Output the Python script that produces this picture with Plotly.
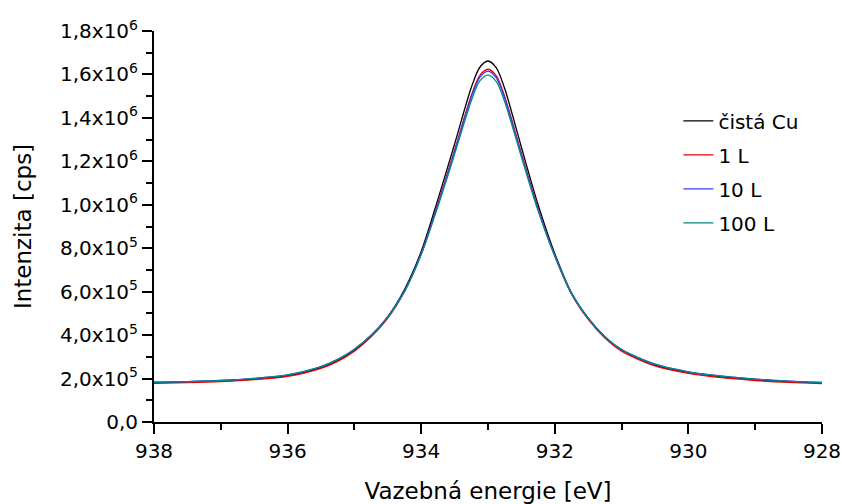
import plotly.graph_objects as go

energy = [938, 937.5, 937, 936.5, 936, 935.5, 935.25, 935, 934.75, 934.5, 934.25, 934,
          933.75, 933.5, 933.25, 933.125, 933, 932.875, 932.75, 932.5, 932.25, 932,
          931.75, 931.5, 931.25, 931, 930.5, 930, 929.5, 929, 928.5, 928]

cista_cu = [0.181, 0.184, 0.189, 0.198, 0.213, 0.250, 0.283, 0.330, 0.397, 0.485, 0.610, 0.785,
            1.025, 1.280, 1.540, 1.632, 1.662, 1.630, 1.535, 1.265, 1.000, 0.775,
            0.595, 0.478, 0.392, 0.332, 0.262, 0.228, 0.208, 0.195, 0.186, 0.180]
l1 = [0.178, 0.181, 0.186, 0.195, 0.210, 0.247, 0.279, 0.326, 0.392, 0.478, 0.601, 0.775,
      1.005, 1.252, 1.503, 1.595, 1.624, 1.593, 1.498, 1.237, 0.982, 0.765,
      0.588, 0.472, 0.386, 0.326, 0.258, 0.224, 0.204, 0.191, 0.182, 0.177]
l10 = [0.183, 0.186, 0.191, 0.201, 0.217, 0.255, 0.288, 0.335, 0.400, 0.484, 0.603, 0.774,
       1.000, 1.245, 1.495, 1.586, 1.615, 1.584, 1.490, 1.230, 0.978, 0.766,
       0.592, 0.478, 0.393, 0.334, 0.266, 0.231, 0.211, 0.197, 0.188, 0.182]
l100 = [0.183, 0.186, 0.191, 0.201, 0.217, 0.255, 0.288, 0.335, 0.399, 0.482, 0.600, 0.770,
        0.992, 1.233, 1.479, 1.569, 1.597, 1.567, 1.474, 1.220, 0.972, 0.763,
        0.591, 0.478, 0.393, 0.334, 0.266, 0.231, 0.211, 0.197, 0.188, 0.182]

series_names = ["čistá Cu", "1 L", "10 L", "100 L"]
series_values = [cista_cu, l1, l10, l100]
series_colors = ["#000000", "#ee0000", "#3a3aff", "#008a8a"]

y_tickvals = [0, 2e5, 4e5, 6e5, 8e5, 1e6, 1.2e6, 1.4e6, 1.6e6, 1.8e6]
y_ticktext = ["0,0", "2,0x10<sup>5</sup>", "4,0x10<sup>5</sup>", "6,0x10<sup>5</sup>",
              "8,0x10<sup>5</sup>", "1,0x10<sup>6</sup>", "1,2x10<sup>6</sup>",
              "1,4x10<sup>6</sup>", "1,6x10<sup>6</sup>", "1,8x10<sup>6</sup>"]
x_tickvals = [938, 936, 934, 932, 930, 928]

fig = go.Figure()
for i, (name, vals, col) in enumerate(zip(series_names, series_values, series_colors)):
    fig.add_trace(go.Scatter(
        x=energy, y=[v * 1e6 for v in vals], mode="lines", name=name,
        legendgroup=f"g{i}",
        line=dict(color=col, width=1.3, shape="spline", smoothing=0.8),
    ))

tick_font = dict(family="DejaVu Sans", size=20, color="black")
title_font = dict(family="DejaVu Sans", size=23, color="black")

fig.update_layout(
    width=842, height=504,
    margin=dict(l=154, r=20, t=31, b=82),
    paper_bgcolor="white", plot_bgcolor="white",
    showlegend=True,
    legend=dict(
        x=0.785, y=0.82, xanchor="left", yanchor="top",
        font=dict(family="DejaVu Sans", size=20, color="black"),
        bgcolor="rgba(0,0,0,0)", traceorder="grouped", tracegroupgap=5,
        itemwidth=30,
    ),
    xaxis=dict(
        range=[938, 928], tickvals=x_tickvals, ticktext=[str(v) for v in x_tickvals],
        automargin=False,
        showgrid=False, zeroline=False, showline=True, linecolor="black", linewidth=2,
        ticks="outside", ticklen=10, tickwidth=2, tickcolor="black",
        minor=dict(dtick=1, ticks="outside", ticklen=6, tickwidth=2, tickcolor="black", showgrid=False),
        tickfont=tick_font,
        title=dict(text="Vazebná energie [eV]", font=title_font, standoff=22),
    ),
    yaxis=dict(
        range=[0, 1.8e6], tickvals=y_tickvals, ticktext=y_ticktext,
        automargin=False,
        showgrid=False, zeroline=False, showline=True, linecolor="black", linewidth=2,
        ticks="outside", ticklen=10, tickwidth=2, tickcolor="black",
        minor=dict(dtick=1e5, tick0=0, ticks="outside", ticklen=6, tickwidth=2, tickcolor="black", showgrid=False),
        tickfont=tick_font,
        title=dict(text="Intenzita [cps]", font=title_font, standoff=22),
    ),
)

fig.write_html("out.html")
